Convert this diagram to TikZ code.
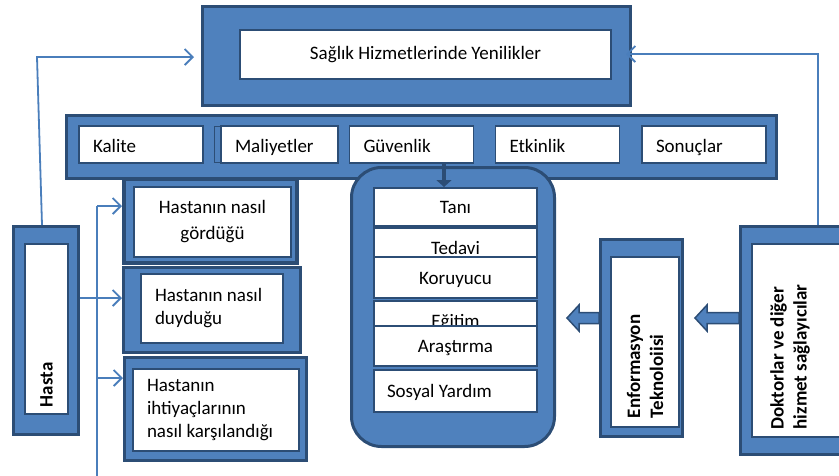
\documentclass[tikz,border=0pt]{standalone}
\usepackage{fontspec}
\setmainfont{Carlito}
\usepackage{tikz}
\usetikzlibrary{arrows.meta, calc}

\definecolor{officeblue}{HTML}{4F81BD}
\definecolor{navy}{HTML}{2C4D75}
\definecolor{linkblue}{HTML}{4A7EBB}

\begin{document}
\begin{tikzpicture}[
    x=1pt, y=-1pt,
    outerbox/.style={draw=navy, line width=3pt, fill=officeblue, inner sep=0},
    inbox/.style={draw=navy, line width=1.2pt, fill=white, inner sep=0, font=\fontsize{19}{23}\selectfont},
    item/.style={inbox, minimum height=37, text width=96, inner xsep=14, align=flush left, text height=16, text depth=1},
    citem/.style={inbox, minimum width=163, minimum height=40, text height=15, text depth=2},
    vtext/.style={inbox, rotate=90, align=flush left, font=\fontsize{19}{23}\selectfont\bfseries},
    link/.style={-{Straight Barb[length=8pt,width=16pt]}, draw=linkblue, line width=1.8pt},
    downarr/.style={-{Triangle[width=15pt,length=7pt]}, draw=navy, line width=4pt},
    blockarr/.style={draw=navy, line width=1.5pt, fill=officeblue}
]
\useasboundingbox (0,0) rectangle (839,475);
\clip (0,0) rectangle (839,475);

% --- TOP ---
\node[outerbox, minimum width=428, minimum height=99] (topo) at (416.5,56) {};
\node[inbox, minimum width=371, minimum height=49] (yenilik) at (425.5,54.5) {Sağlık Hizmetlerinde Yenilikler};

% --- CRITERIA ROW ---
\node[outerbox, minimum width=710, minimum height=63] (rowo) at (421.5,147) {};
\node[item] (kalite) at (141,144.5) {Kalite};
\node[outerbox, line width=1.5pt, minimum width=123, minimum height=36] (maliyo) at (276,144.5) {};
\node[item, text width=89] (maliyet) at (279.5,144.5) {Maliyetler};
\node[item] (guv) at (411.5,144.5) {Güvenlik};
\node[item] (etkin) at (557.5,144.5) {Etkinlik};
\node[item] (sonuc) at (704,144.5) {Sonuçlar};

% --- PATIENT ---
\node[outerbox, minimum width=65, minimum height=208] (hastao) at (46,330.5) {};
\node[vtext, minimum width=170, minimum height=43, text width=156, inner xsep=7] (hasta) at (46.5,329) {Hasta};

\node[outerbox, line width=4pt, minimum width=173, minimum height=84] (goro) at (210.5,221) {};
\node[inbox, minimum width=157, minimum height=70, align=center] (gor) at (212.5,222) {Hastanın nasıl\\[3pt]gördüğü};
\node[outerbox, minimum width=177, minimum height=85] (duyo) at (212,310) {};
\node[inbox, minimum width=142, minimum height=69, text width=114, inner xsep=14, align=flush left] (duy) at (212,308.5) {Hastanın nasıl\\duyduğu};
\node[outerbox, minimum width=182, minimum height=103] (ihto) at (215.5,409) {};
\node[inbox, minimum width=166, minimum height=82, text width=138, inner xsep=14, align=flush left] (iht) at (216,410) {Hastanın\\ihtiyaçlarının\\nasıl karşılandığı};

% --- SERVICES ---
\node[outerbox, rounded corners=30, minimum width=203, minimum height=279] (hizmet) at (453,307) {};
\node[citem, minimum height=38] (tani) at (455.5,207) {Tanı};
\node[citem] (tedavi) at (455.5,248) {Tedavi};
\node[citem, minimum height=41] (koru) at (455.5,277.5) {Koruyucu};
\node[citem] (egitim) at (455.5,321) {Eğitim};
\node[citem] (arastir) at (455.5,346) {Araştırma};
\node[citem, minimum height=42, text width=137, inner xsep=13, align=flush left] (sosyal) at (455.5,391) {Sosyal Yardım};

% --- IT AND PROVIDERS ---
\node[outerbox, minimum width=82, minimum height=197] (enfo) at (641.5,338) {};
\node[vtext, minimum width=170, minimum height=68, text width=152, inner xsep=9] (enf) at (645,342) {Enformasyon\\Teknoloiisi};
\node[outerbox, minimum width=128, minimum height=228] (doco) at (804.5,340.5) {};
\node[inbox, minimum width=108, minimum height=193] (docbox) at (806,340.5) {};
\node[vtext, draw=none, fill=none, anchor=west] (doc) at (790,430) {Doktorlar ve diğer\\hizmet sağlayıcılar};

% --- CONNECTORS ---
\coordinate (lturn) at (37,57);
\coordinate (rturn) at (818,54);
\draw[link, shorten >=7pt] ([xshift=-4]hastao.north) -- (lturn) -- (lturn -| topo.west);
\draw[link, shorten >=-6pt] (doco.north -| rturn) -- (rturn) -- (rturn -| topo.east);

\coordinate (bustop) at (97,206);
\coordinate (busmid) at (97,298);
\coordinate (buslow) at (97,378);
\coordinate (busbot) at (97,480);
\draw[draw=linkblue, line width=1.8pt] (busbot) -- (bustop);
\draw[link] (bustop) -- (bustop -| goro.west);
\draw[link] (busmid -| hastao.east) -- (busmid -| duyo.west);
\draw[link] (buslow) -- (buslow -| ihto.west);

\coordinate (dtip) at (444,187);
\draw[downarr] (guv.south -| dtip) -- (dtip);

\coordinate (ay) at (0,318);
\draw[blockarr] (doco.west |- ay) ++(0,-5.5) -- ++(-32,0) -- ++(0,-7.5) -- ++(-12,13) -- ++(12,13) -- ++(0,-7.5) -- ++(32,0) -- cycle;
\draw[blockarr] (enfo.west |- ay) ++(0,-5.5) -- ++(-20,0) -- ++(0,-7.5) -- ++(-12,13) -- ++(12,13) -- ++(0,-7.5) -- ++(20,0) -- cycle;
\end{tikzpicture}
\end{document}
